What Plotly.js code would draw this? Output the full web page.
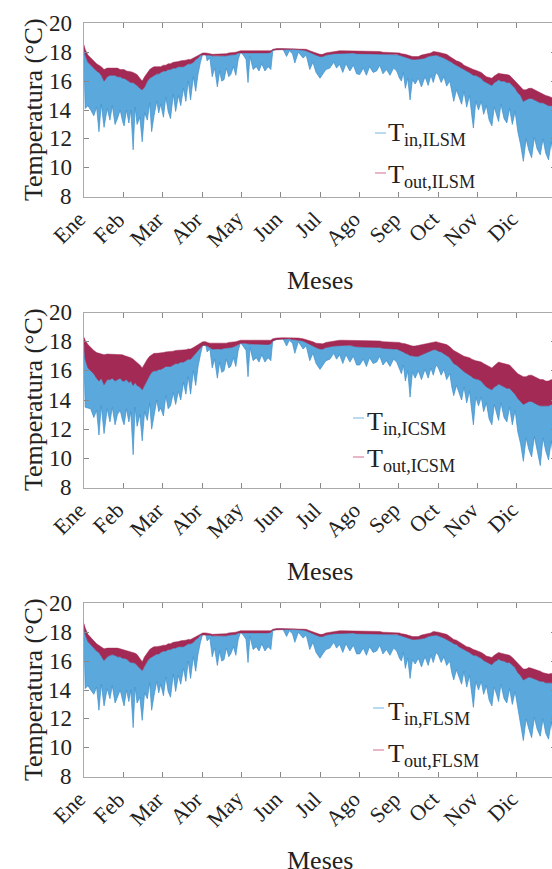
<!DOCTYPE html>
<html>
<head>
<meta charset="utf-8">
<script src="https://cdn.plot.ly/plotly-3.0.1.min.js"></script>
<style>
html,body{margin:0;padding:0;overflow:hidden;background:#fff;}
#chart{width:560px;height:869px;}
</style>
</head>
<body>
<div id="chart"></div>
<script>
// time axis in months (0 = 1 Ene, 12 = end of Dic)
const months = [0,0.03,0.1,0.17,0.25,0.32,0.38,0.44,0.51,0.59,
0.66,0.72,0.79,0.85,0.92,0.98,1.02,1.08,1.14,1.19,
1.25,1.3,1.35,1.42,1.48,1.54,1.61,1.67,1.72,1.78,
1.85,1.9,1.95,2.02,2.08,2.14,2.2,2.27,2.33,2.4,
2.46,2.53,2.59,2.65,2.71,2.78,2.84,2.9,2.96,3.02,
3.1,3.13,3.2,3.26,3.32,3.39,3.45,3.5,3.56,3.62,
3.68,3.73,3.8,3.86,3.92,3.98,4.05,4.12,4.17,4.22,
4.3,4.38,4.45,4.52,4.6,4.68,4.75,4.8,4.9,5.06,
5.15,5.22,5.3,5.36,5.45,5.57,5.65,5.74,5.82,5.9,
6,6.07,6.15,6.25,6.35,6.42,6.5,6.58,6.66,6.76,
6.85,6.93,7.01,7.1,7.18,7.26,7.35,7.44,7.52,7.6,
7.69,7.78,7.87,7.95,8.02,8.07,8.12,8.17,8.23,8.29,
8.35,8.42,8.5,8.58,8.67,8.75,8.82,8.88,8.95,9.01,
9.08,9.15,9.22,9.3,9.35,9.4,9.47,9.53,9.6,9.66,
9.73,9.8,9.86,9.9,9.96,10.03,10.1,10.16,10.23,10.3,
10.37,10.43,10.5,10.54,10.6,10.68,10.75,10.82,10.89,10.96,
11.03,11.1,11.17,11.24,11.31,11.38,11.45,11.52,11.6,11.67,
11.74,11.81,11.88,11.95,12];

const monthTicks = [0,1,2,3,4,5,6,7,8,9,10,11];
const monthLabels = ['Ene','Feb','Mar','Abr','May','Jun','Jul','Ago','Sep','Oct','Nov','Dic'];
const tempTicks = [8,10,12,14,16,18,20];
const caseNames = ['ILSM','ICSM','FLSM'];
const xTitle = 'Meses';
const yTitle = 'Temperatura (°C)';

const outHighILSM = [18.5,18.2,17.8,17.6,17.4,17.2,17.1,17.0,16.8,16.9,
16.9,16.9,16.9,16.9,16.8,16.8,16.8,16.7,16.7,16.65,
16.6,16.5,16.45,16.2,16.0,16.3,16.6,16.8,16.9,17.0,
17.0,17.0,17.0,17.1,17.1,17.2,17.2,17.3,17.3,17.35,
17.4,17.4,17.45,17.5,17.5,17.6,17.7,17.8,17.9,17.95,
17.95,17.95,17.9,17.85,17.85,17.85,17.85,17.9,17.9,17.9,
17.95,17.95,17.95,18.0,18.05,18.1,18.1,18.1,18.1,18.05,
18.05,18.05,18.05,18.05,18.05,18.05,18.1,18.2,18.25,18.25,
18.25,18.25,18.25,18.25,18.25,18.25,18.2,18.1,18.05,17.95,
17.85,17.85,17.95,18.0,18.05,18.1,18.1,18.1,18.1,18.1,
18.1,18.05,18.05,18.05,18.05,18.05,18.05,18.05,18.05,18.0,
18.0,18.0,18.0,18.0,17.95,17.9,17.9,17.85,17.8,17.75,
17.7,17.7,17.7,17.8,17.85,17.9,17.95,18.05,18.05,18.0,
17.95,17.9,17.85,17.7,17.6,17.5,17.4,17.35,17.25,17.1,
17.0,16.95,16.85,16.8,16.75,16.7,16.6,16.45,16.3,16.25,
16.2,16.35,16.5,16.55,16.5,16.5,16.45,16.4,16.2,16.0,
15.8,15.6,15.4,15.4,15.5,15.5,15.4,15.3,15.2,15.1,
15.0,14.95,14.9,14.8,14.7];
const outLowILSM = [18.2,17.8,17.3,17.1,16.9,16.7,16.6,16.4,16.0,16.3,
16.4,16.4,16.4,16.3,16.3,16.2,16.2,16.1,16.0,15.9,
15.9,15.8,15.7,15.5,15.4,15.6,16.0,16.2,16.3,16.4,
16.5,16.5,16.6,16.7,16.7,16.8,16.8,16.9,16.9,17.0,
17.0,17.0,17.1,17.2,17.2,17.3,17.5,17.6,17.8,17.85,
17.85,17.8,17.8,17.75,17.7,17.7,17.7,17.7,17.75,17.75,
17.8,17.8,17.85,17.85,17.95,18.0,18.0,18.0,18.0,17.95,
17.95,17.95,17.95,17.95,17.95,17.95,18.0,18.15,18.2,18.2,
18.2,18.2,18.2,18.2,18.2,18.15,18.1,18.0,17.9,17.8,
17.7,17.7,17.8,17.85,17.9,17.95,17.95,17.95,17.95,17.95,
17.95,17.9,17.9,17.9,17.9,17.9,17.9,17.9,17.9,17.85,
17.85,17.85,17.85,17.85,17.8,17.75,17.7,17.65,17.6,17.55,
17.5,17.5,17.5,17.55,17.6,17.7,17.75,17.8,17.8,17.75,
17.7,17.6,17.5,17.4,17.3,17.2,17.1,17.0,16.9,16.8,
16.7,16.6,16.5,16.4,16.4,16.3,16.2,16.0,15.9,15.8,
15.7,15.9,16.0,16.1,16.0,16.0,15.9,15.9,15.7,15.5,
15.2,15.0,14.6,14.7,14.8,14.8,14.7,14.6,14.5,14.5,
14.4,14.3,14.3,14.2,14.2];
const inLowILSM = [17.5,14.1,14.3,14.0,13.6,14.2,12.5,14.4,12.8,14.1,
13.3,14.3,13.0,13.4,14.0,13.2,12.9,14.0,13.1,14.0,
11.25,14.2,13.0,13.5,11.8,13.8,13.3,14.5,12.5,13.6,
14.6,13.8,14.4,13.5,14.9,13.9,13.4,15.1,13.9,15.0,
14.3,15.5,14.6,16.0,14.7,16.3,15.3,16.5,17.3,17.9,
17.8,17.4,17.6,16.3,16.9,15.6,16.7,16.0,16.1,16.9,
16.3,16.45,17.0,16.4,17.5,18.0,17.8,17.5,15.9,17.7,
16.8,17.0,16.7,17.2,16.7,17.0,16.8,18.1,18.2,18.2,
17.7,18.1,17.9,17.25,18.0,17.6,17.8,16.8,17.3,16.6,
16.2,16.5,16.8,16.9,17.3,16.9,17.15,16.6,17.2,16.7,
17.1,16.5,16.45,16.9,16.4,17.0,16.6,16.7,17.1,16.5,
16.8,16.4,16.9,16.7,16.2,16.0,16.6,15.5,16.2,14.7,
16.1,15.8,16.2,15.6,16.3,15.7,16.4,15.9,16.6,16.4,
15.9,16.3,15.65,16.0,15.2,14.6,15.4,15.0,14.4,15.3,
14.2,15.0,13.6,12.75,14.6,14.0,14.6,13.7,14.3,13.3,
12.9,14.2,13.6,13.2,14.4,13.4,13.1,14.1,13.0,13.9,
12.5,11.6,10.45,12.0,11.2,10.7,12.1,11.3,10.9,12.0,
11.0,10.55,11.8,10.4,10.3];

const outHighICSM = [18.3,18.1,17.8,17.6,17.4,17.25,17.2,17.15,17.1,17.15,
17.15,17.15,17.1,17.15,17.1,17.1,17.05,17.0,16.95,16.9,
16.8,16.7,16.6,16.4,16.2,16.5,16.8,17.0,17.1,17.2,
17.2,17.2,17.2,17.25,17.3,17.3,17.35,17.35,17.4,17.4,
17.4,17.45,17.45,17.5,17.5,17.6,17.7,17.85,17.95,18.0,
18.0,17.95,17.9,17.9,17.85,17.85,17.85,17.9,17.9,17.9,
17.95,17.95,18.0,18.0,18.05,18.1,18.1,18.1,18.1,18.05,
18.05,18.05,18.05,18.05,18.05,18.1,18.1,18.2,18.25,18.27,
18.27,18.27,18.25,18.25,18.25,18.2,18.15,18.1,18.0,17.9,
17.85,17.85,17.95,18.0,18.05,18.1,18.1,18.1,18.1,18.1,
18.1,18.05,18.05,18.05,18.05,18.05,18.05,18.05,18.05,18.0,
18.0,18.0,18.0,18.0,17.95,17.9,17.9,17.85,17.8,17.75,
17.7,17.7,17.75,17.8,17.85,17.9,17.95,18.0,18.0,17.95,
17.9,17.85,17.8,17.65,17.5,17.4,17.3,17.2,17.1,17.0,
16.95,16.9,16.8,16.75,16.7,16.65,16.6,16.5,16.4,16.3,
16.2,16.35,16.5,16.6,16.55,16.5,16.45,16.4,16.2,16.0,
15.8,15.7,15.6,15.6,15.7,15.7,15.6,15.5,15.4,15.4,
15.3,15.3,15.4,15.3,15.2];
const outLowICSM = [17.9,16.8,16.2,16.0,15.8,15.5,15.3,15.5,15.05,15.4,
15.4,15.5,15.3,15.4,15.5,15.3,15.3,15.4,15.2,15.3,
15.0,15.2,15.0,14.9,14.7,15.0,15.4,15.7,15.9,16.0,
16.0,16.1,16.1,16.2,16.3,16.3,16.3,16.4,16.5,16.5,
16.6,16.6,16.7,16.8,16.8,17.0,17.2,17.4,17.6,17.75,
17.75,17.7,17.6,17.5,17.5,17.45,17.5,17.5,17.55,17.55,
17.6,17.6,17.65,17.7,17.8,17.9,17.9,17.9,17.85,17.85,
17.8,17.8,17.8,17.8,17.8,17.8,17.85,18.05,18.15,18.2,
18.2,18.2,18.15,18.1,18.1,18.05,17.95,17.85,17.7,17.6,
17.5,17.5,17.6,17.65,17.7,17.75,17.75,17.75,17.75,17.75,
17.7,17.65,17.65,17.65,17.6,17.65,17.6,17.6,17.6,17.55,
17.55,17.5,17.5,17.5,17.45,17.35,17.3,17.2,17.15,17.05,
17.0,17.0,17.0,17.1,17.2,17.3,17.4,17.45,17.45,17.35,
17.3,17.2,17.05,16.9,16.7,16.5,16.4,16.3,16.1,15.95,
15.85,15.7,15.6,15.5,15.45,15.4,15.3,15.1,14.9,14.8,
14.7,14.9,15.0,15.1,15.0,14.9,14.8,14.8,14.6,14.4,
14.1,13.9,13.7,13.8,13.9,13.9,13.8,13.7,13.6,13.6,
13.6,13.6,13.7,13.65,13.6];
const inLowICSM = [17.0,13.5,13.45,13.4,12.8,13.3,11.6,13.6,11.7,13.4,
12.5,13.5,12.3,13.0,13.3,12.6,12.3,13.4,12.5,13.2,
10.25,13.5,12.2,13.0,11.2,13.2,12.6,13.8,12.0,13.0,
14.0,13.2,13.45,12.9,14.3,13.4,13.6,14.5,13.7,14.6,
14.0,15.2,14.4,15.6,14.4,16.0,15.0,16.3,17.1,17.8,
17.7,17.3,17.5,16.2,16.8,15.5,16.6,15.9,16.0,16.8,
16.2,16.3,16.9,16.3,17.4,17.95,17.7,17.4,15.6,17.6,
16.7,16.9,16.6,17.1,16.6,16.9,16.7,18.1,18.2,18.2,
17.7,18.1,17.9,17.2,18.0,17.5,17.7,16.7,17.2,16.5,
16.1,16.4,16.7,16.8,17.2,16.8,17.1,16.5,17.1,16.6,
17.0,16.4,16.4,16.8,16.3,16.9,16.5,16.6,17.0,16.4,
16.7,16.3,16.8,16.6,16.1,15.8,16.4,15.3,16.0,14.2,
15.9,15.5,16.0,15.4,16.1,15.5,16.2,15.7,16.4,16.2,
15.7,16.1,15.4,15.8,14.9,14.3,15.0,14.6,14.0,14.9,
13.8,14.6,13.2,12.3,14.2,13.6,14.2,13.2,13.8,12.7,
12.3,13.7,13.0,12.6,13.8,12.8,12.5,13.5,12.3,13.3,
11.8,11.0,9.8,11.4,10.6,10.1,11.5,10.7,9.5,11.4,
10.5,9.9,11.2,9.6,9.5];

const outHighFLSM = [18.6,18.3,17.85,17.6,17.4,17.2,17.1,17.0,16.85,16.9,
16.9,16.95,16.9,16.9,16.85,16.8,16.8,16.75,16.7,16.65,
16.6,16.55,16.45,16.2,15.95,16.3,16.6,16.8,16.9,17.0,
17.0,17.0,17.05,17.1,17.1,17.2,17.2,17.3,17.3,17.35,
17.4,17.4,17.45,17.5,17.5,17.6,17.7,17.8,17.9,17.95,
17.95,17.95,17.9,17.85,17.85,17.85,17.85,17.9,17.9,17.9,
17.95,17.95,17.95,18.0,18.05,18.1,18.1,18.1,18.1,18.05,
18.05,18.05,18.05,18.05,18.05,18.05,18.1,18.2,18.25,18.25,
18.25,18.25,18.25,18.25,18.25,18.25,18.2,18.1,18.05,17.95,
17.85,17.85,17.95,18.0,18.05,18.1,18.1,18.1,18.1,18.1,
18.1,18.05,18.05,18.05,18.05,18.05,18.05,18.05,18.05,18.0,
18.0,18.0,18.0,18.0,17.95,17.9,17.9,17.85,17.8,17.75,
17.7,17.7,17.7,17.8,17.85,17.9,17.95,18.05,18.05,18.0,
17.95,17.9,17.85,17.7,17.6,17.5,17.45,17.35,17.25,17.1,
17.0,16.95,16.85,16.8,16.75,16.7,16.6,16.5,16.35,16.3,
16.25,16.4,16.55,16.6,16.55,16.5,16.45,16.4,16.25,16.05,
15.8,15.6,15.45,15.45,15.55,15.5,15.45,15.35,15.3,15.2,
15.15,15.1,15.15,15.15,15.1];
const outLowFLSM = [18.3,17.85,17.35,17.1,16.9,16.7,16.6,16.4,16.05,16.3,
16.4,16.45,16.4,16.3,16.3,16.2,16.2,16.15,16.0,15.9,
15.9,15.85,15.7,15.5,15.35,15.6,16.0,16.2,16.3,16.4,
16.5,16.5,16.6,16.7,16.7,16.8,16.8,16.9,16.9,17.0,
17.0,17.0,17.1,17.2,17.2,17.3,17.5,17.6,17.8,17.85,
17.85,17.8,17.8,17.75,17.7,17.7,17.7,17.7,17.75,17.75,
17.8,17.8,17.85,17.85,17.95,18.0,18.0,18.0,18.0,17.95,
17.95,17.95,17.95,17.95,17.95,17.95,18.0,18.15,18.2,18.2,
18.2,18.2,18.2,18.2,18.2,18.15,18.1,18.0,17.9,17.8,
17.7,17.7,17.8,17.85,17.9,17.95,17.95,17.95,17.95,17.95,
17.95,17.9,17.9,17.9,17.9,17.9,17.9,17.9,17.9,17.85,
17.85,17.85,17.85,17.85,17.8,17.75,17.7,17.65,17.6,17.55,
17.5,17.5,17.5,17.55,17.6,17.7,17.75,17.8,17.8,17.75,
17.7,17.6,17.5,17.4,17.3,17.2,17.15,17.0,16.9,16.8,
16.7,16.6,16.5,16.4,16.4,16.3,16.2,16.05,15.95,15.85,
15.75,15.95,16.05,16.15,16.05,16.0,15.9,15.9,15.75,15.55,
15.2,15.0,14.7,14.8,14.9,14.85,14.8,14.7,14.6,14.6,
14.5,14.5,14.55,14.5,14.5];
const inLowFLSM = [17.6,14.1,14.3,14.0,13.7,14.2,12.6,14.4,12.9,14.1,
13.4,14.3,13.1,13.5,14.0,13.3,12.9,14.0,13.2,14.0,
11.4,14.2,13.1,13.5,11.9,13.8,13.4,14.5,12.6,13.6,
14.6,13.8,14.4,13.6,14.9,13.9,13.5,15.1,13.9,15.0,
14.4,15.5,14.6,16.0,14.8,16.3,15.3,16.5,17.3,17.9,
17.8,17.4,17.6,16.3,16.9,15.7,16.7,16.0,16.1,16.9,
16.3,16.5,17.0,16.4,17.5,18.0,17.8,17.5,15.9,17.7,
16.8,17.0,16.7,17.2,16.7,17.0,16.8,18.1,18.2,18.2,
17.7,18.1,17.9,17.3,18.0,17.6,17.8,16.8,17.3,16.6,
16.2,16.5,16.8,16.9,17.3,16.9,17.15,16.6,17.2,16.7,
17.1,16.5,16.5,16.9,16.4,17.0,16.6,16.7,17.1,16.5,
16.8,16.4,16.9,16.7,16.2,16.0,16.6,15.5,16.2,14.8,
16.1,15.8,16.2,15.6,16.3,15.7,16.4,15.9,16.6,16.4,
15.9,16.3,15.7,16.0,15.2,14.7,15.4,15.0,14.4,15.3,
14.2,15.0,13.7,12.8,14.6,14.0,14.6,13.7,14.3,13.3,
12.9,14.2,13.6,13.2,14.4,13.4,13.1,14.1,13.0,13.9,
12.5,11.6,10.5,12.0,11.3,10.7,12.1,11.3,10.8,12.0,
11.0,10.6,11.8,10.4,10.3];

(function () {
  const cases = [
    {outHigh: outHighILSM, outLow: outLowILSM, inLow: inLowILSM},
    {outHigh: outHighICSM, outLow: outLowICSM, inLow: inLowICSM},
    {outHigh: outHighFLSM, outLow: outLowFLSM, inLow: inLowFLSM}
  ];
  const cBlue = '#5aa8dc', cBlueEdge = '#3f8fcc', cRed = '#a32a55';
  const serifFont = 'Liberation Serif';
  const txtCol = '#222';
  const pageW = 560, pageH = 869;

  function makeBand(upper, lower) {
    const n = Math.min(months.length, upper.length, lower.length);
    const xs = months.slice(0, n), up = upper.slice(0, n), lo = lower.slice(0, n);
    return {x: xs.concat(xs.slice().reverse()), y: up.concat(lo.slice().reverse())};
  }

  const data = [];
  cases.forEach(function (c, i) {
    const xa = i === 0 ? 'x' : 'x' + (i + 1);
    const ya = i === 0 ? 'y' : 'y' + (i + 1);
    const bIn = makeBand(c.outLow, c.inLow);
    data.push({type: 'scatter', mode: 'lines', x: bIn.x, y: bIn.y, xaxis: xa, yaxis: ya,
      fill: 'toself', fillcolor: cBlue, line: {color: cBlueEdge, width: 0.7}, showlegend: false, hoverinfo: 'skip'});
    const bOut = makeBand(c.outHigh, c.outLow);
    data.push({type: 'scatter', mode: 'lines', x: bOut.x, y: bOut.y, xaxis: xa, yaxis: ya,
      fill: 'toself', fillcolor: cRed, line: {color: cRed, width: 0.5}, showlegend: false, hoverinfo: 'skip'});
  });

  // plot areas in page pixels
  const plotLeft = 84, plotRight = 556;
  const plotTops = [23.3, 312.5, 603.3];
  const plotBottoms = [196.7, 487.5, 776.7];
  const xDom = [plotLeft / pageW, plotRight / pageW];

  function mkX(i) {
    return {
      domain: xDom, anchor: i === 0 ? 'y' : 'y' + (i + 1),
      range: [0, 12], tickmode: 'array', tickvals: monthTicks, showticklabels: false,
      ticks: 'inside', ticklen: 5, tickcolor: '#888',
      showline: true, linecolor: '#aaa', linewidth: 1, mirror: 'ticks',
      showgrid: false, zeroline: false
    };
  }
  function mkY(i) {
    return {
      domain: [1 - plotBottoms[i] / pageH, 1 - plotTops[i] / pageH], anchor: i === 0 ? 'x' : 'x' + (i + 1),
      range: [8, 20], tickmode: 'array', tickvals: tempTicks, showticklabels: false,
      ticks: 'inside', ticklen: 5, tickcolor: '#888',
      showline: true, linecolor: '#aaa', linewidth: 1, mirror: 'ticks',
      showgrid: false, zeroline: false
    };
  }

  const annotations = [], shapes = [];
  for (let i = 0; i < 3; i++) {
    const xa = i === 0 ? 'x' : 'x' + (i + 1);
    const ya = i === 0 ? 'y' : 'y' + (i + 1);
    // month labels (rotated)
    monthTicks.forEach(function (m, k) {
      annotations.push({xref: xa, yref: 'paper', x: m, y: 1 - (plotBottoms[i] + 7) / pageH,
        xanchor: 'right', yanchor: 'top', xshift: 9, showarrow: false, textangle: -45,
        text: monthLabels[k], font: {family: serifFont, size: 22, color: txtCol}});
    });
    // temperature labels
    tempTicks.forEach(function (v) {
      annotations.push({xref: 'paper', yref: ya, x: 74 / pageW, y: v,
        xanchor: 'right', yanchor: 'middle', showarrow: false,
        text: String(v), font: {family: serifFont, size: 23, color: txtCol}});
    });
    // axis titles
    annotations.push({xref: 'paper', yref: 'paper', x: 33 / pageW,
      y: 1 - ((plotTops[i] + plotBottoms[i]) / 2) / pageH,
      xanchor: 'center', yanchor: 'middle', showarrow: false, textangle: -90,
      text: yTitle, font: {family: serifFont, size: 26, color: txtCol}});
    annotations.push({xref: 'paper', yref: 'paper', x: 320 / pageW,
      y: 1 - (plotBottoms[i] + 84) / pageH,
      xanchor: 'center', yanchor: 'middle', showarrow: false,
      text: xTitle, font: {family: serifFont, size: 26, color: txtCol}});
  }

  // legend drawn as annotations + short line samples (page px)
  const legendSpots = [
    {x: 386, tin: 116, tout: 158, lx: 375, lin: 133, lout: 173},
    {x: 365, tin: 405, tout: 442, lx: 353, lin: 418, lout: 457},
    {x: 386, tin: 695, tout: 737, lx: 373, lin: 708, lout: 750}
  ];
  legendSpots.forEach(function (p, i) {
    [['in', p.tin, p.lin, '#8cc2ea'], ['out', p.tout, p.lout, '#d9869e']].forEach(function (e) {
      annotations.push({xref: 'paper', yref: 'paper', x: p.x / pageW, y: 1 - e[1] / pageH,
        xanchor: 'left', yanchor: 'top', showarrow: false, align: 'left',
        text: 'T<sub>' + e[0] + ',' + caseNames[i] + '</sub>',
        font: {family: serifFont, size: 26, color: txtCol}});
      shapes.push({type: 'line', xref: 'paper', yref: 'paper',
        x0: p.lx / pageW, x1: (p.lx + 11) / pageW, y0: 1 - e[2] / pageH, y1: 1 - e[2] / pageH,
        line: {color: e[3], width: 1.2}});
    });
  });

  const lay = {
    width: pageW, height: pageH,
    margin: {l: 0, r: 0, t: 0, b: 0, autoexpand: false},
    paper_bgcolor: '#fff', plot_bgcolor: '#fff',
    showlegend: false,
    xaxis: mkX(0), yaxis: mkY(0),
    xaxis2: mkX(1), yaxis2: mkY(1),
    xaxis3: mkX(2), yaxis3: mkY(2),
    annotations: annotations, shapes: shapes
  };

  Plotly.newPlot('chart', data, lay, {staticPlot: true, displayModeBar: false});
})();
</script>
</body>
</html>
